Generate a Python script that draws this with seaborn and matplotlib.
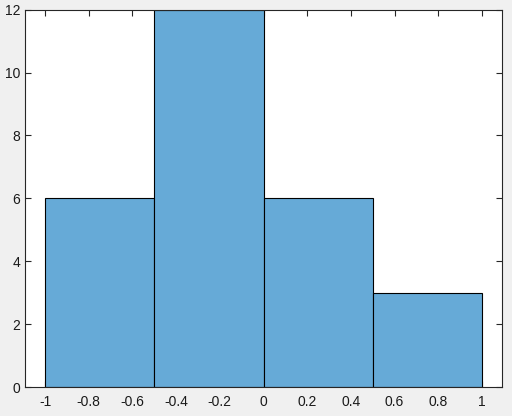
import seaborn as sns
import numpy as np
import matplotlib
matplotlib.use("Agg")
import matplotlib.pyplot as plt

# histogram bins and counts
bin_edges = [-1.0, -0.5, 0.0, 0.5, 1.0]
bin_centers = [-0.75, -0.25, 0.25, 0.75]
counts = [6, 12, 6, 3]

x_ticks = [-1, -0.8, -0.6, -0.4, -0.2, 0, 0.2, 0.4, 0.6, 0.8, 1]
x_labels = ["-1", "-0.8", "-0.6", "-0.4", "-0.2", "0", "0.2", "0.4", "0.6", "0.8", "1"]
y_ticks = [0, 2, 4, 6, 8, 10, 12]

sns.set_style("white")
plt.rcParams["font.family"] = ["Liberation Sans", "DejaVu Sans"]

fig = plt.figure(figsize=(5.12, 4.16), dpi=100, facecolor="#f0f0f0")
ax = fig.add_axes([0.0488, 0.0697, 0.9317, 0.907])

sns.histplot(x=bin_centers, weights=counts, bins=bin_edges, ax=ax,
             color=(0.4, 0.668, 0.845), alpha=1, edgecolor="black", linewidth=0.8)

ax.set_xlim(-1.092, 1.092)
ax.set_ylim(0, 12)
ax.set_xticks(x_ticks)
ax.set_xticklabels(x_labels)
ax.set_yticks(y_ticks)
ax.set_xlabel("")
ax.set_ylabel("")
ax.tick_params(direction="in", length=4, width=0.8, colors="#262626",
               labelsize=10, top=True, right=True, bottom=True, left=True,
               labelcolor="#1a1a1a")
ax.tick_params(axis="x", pad=6)
for s in ax.spines.values():
    s.set_visible(True)
    s.set_color("#262626")
    s.set_linewidth(0.8)

fig.savefig("out.png", dpi=100, facecolor=fig.get_facecolor())
